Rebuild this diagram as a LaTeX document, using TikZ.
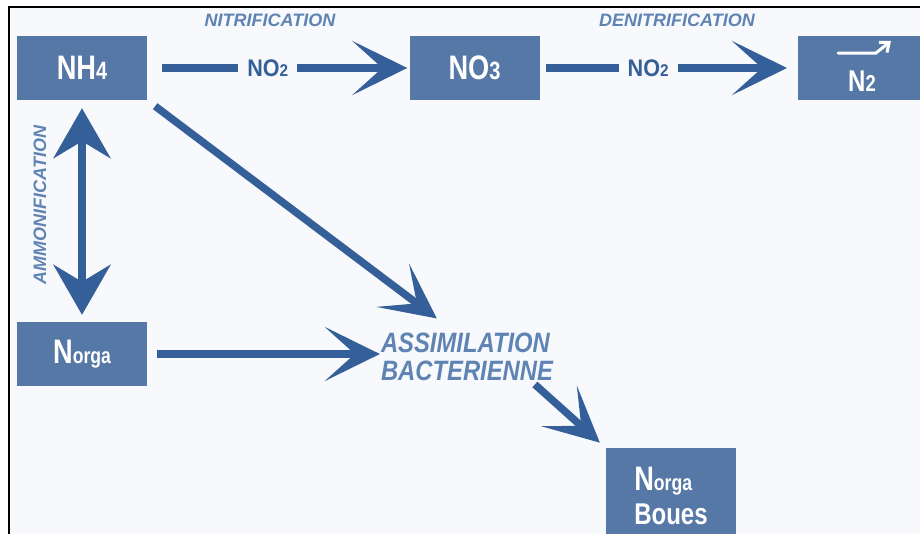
\documentclass[tikz,border=0pt]{standalone}
\usepackage{fontspec}
\setmainfont[FakeStretch = 0.8]{Liberation Sans}
\newfontfamily\etiqfont{Liberation Sans}
\newfontfamily\assimfont[FakeStretch = 0.85]{Liberation Sans}
\newfontfamily\quimfont[FakeStretch = 0.9]{Liberation Sans}
\usetikzlibrary{
	arrows.meta,
	calc
}
\definecolor{fondo}{HTML}{F7F9FC}
\definecolor{cajaazul}{HTML}{5578A6}
\definecolor{flechaazul}{HTML}{355F98}
\definecolor{textoazul}{HTML}{5F84B3}
\def\fs#1{\fontsize{#1}{#1}\selectfont}

\begin{document}
\begin{tikzpicture}[
	x = 1pt, y = -1pt,
	caja/.style = {
		fill = cajaazul, text = white, font = \bfseries\fs{34},
		minimum width = 130pt, minimum height = 64pt, inner sep = 0pt
	},
	flecha/.style = {
		draw = flechaazul, line width = 7.5pt,
		-{Stealth[length = 55pt, width = 54pt, inset = 30pt]}
	},
	etiqueta/.style = {text = textoazul, font = \etiqfont\bfseries\itshape\fs{18}},
	quimico/.style = {
		text = flechaazul, fill = fondo, font = \quimfont\bfseries\fs{24},
		inner xsep = 9pt
	},
]

	% marco y fondo
	\useasboundingbox (0,0) rectangle (920,533);
	\fill[white] (0,0) rectangle (920,533);
	\draw[fill = fondo, line width = 2pt] (9,7) rectangle (940,550);

	% cajas
	\node[caja] (NH4) at (82,68) {NH{\fs{25}4}};
	\node[caja] (NO3) at (474.5,68) {NO{\fs{25}3}};
	\node[caja, anchor = west, minimum width = 140pt] (N2) at (798,68) {};
	\node[text = white, font = \bfseries\fs{30}] (N2txt) at (862,81) {N{\fs{23}2}};
	\node[caja] (Norga) at (82,354) {N{\fs{22}orga}};
	\node[caja, anchor = north, minimum height = 95pt, align = left,
		font = \bfseries\fs{30}] (Boues) at (671,448)
		{{\fs{34}N}{\fs{22}orga}\\[4pt]Boues};

	% textos
	\node[etiqueta] (nitrif) at (270,20) {NITRIFICATION};
	\node[etiqueta] (denitrif) at (677,20) {DENITRIFICATION};
	\node[etiqueta, rotate = 90] (ammonif) at (40,205) {AMMONIFICATION};
	\node[etiqueta, font = \assimfont\bfseries\itshape\fs{28}, align = left,
		inner sep = 0pt] (assim) at (467,357)
		{ASSIMILATION\\BACTERIENNE};

	% flecha sobre N2
	\draw[white, line width = 3pt, line cap = round,
		-{Straight Barb[length = 8pt, width = 13pt]}]
		(838,53) -- (876,53) -- (891,41);

	% nitrificación y desnitrificación
	\draw[flecha, shorten <= 15pt, shorten >= 2pt]
		(NH4) -- node[quimico, pos = 0.46] (no2a) {NO{\fs{17}2}} (NO3);
	\draw[flecha, shorten <= 6pt, shorten >= 11pt]
		(NO3) -- node[quimico, pos = 0.42] (no2b) {NO{\fs{17}2}} (N2);

	% amonificación
	\draw[flecha, {Stealth[length = 50pt, width = 57pt, inset = 17pt]}-{Stealth[length = 50pt, width = 57pt, inset = 17pt]},
		shorten <= 8pt, shorten >= 7pt] (NH4) -- (Norga);

	% asimilación
	\draw[flecha, shorten <= 10pt, shorten >= 24pt]
		(NH4.south east) -- ([xshift = -11pt]assim.north);
	\draw[flecha, shorten <= 10pt, shorten >= 1pt]
		(Norga.east) -- (Norga.east -| assim.west);
	\draw[flecha, shorten <= 5pt, shorten >= 8pt]
		([xshift = -22pt]assim.south east) -- (Boues.north west);

\end{tikzpicture}
\end{document}
